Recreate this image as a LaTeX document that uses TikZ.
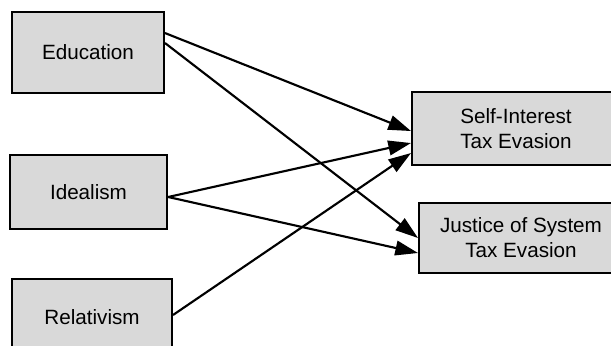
\documentclass[tikz,border=0pt]{standalone}
\usepackage{fontspec}
\setmainfont{Liberation Sans}
\usetikzlibrary{arrows.meta}
\begin{document}
\begin{tikzpicture}[x=0.75pt,y=-0.75pt,
  box/.style={draw=black,line width=1.5pt,fill=black!15,align=center,
    font=\fontsize{15.5}{18.75}\selectfont,inner sep=0pt},
  arr/.style={line width=1.6pt,-{Triangle[length=17pt,width=11pt]}}]
\useasboundingbox (0,0) rectangle (611,346);
\clip (0,0) rectangle (611,346);
\node[box,minimum width=114pt,minimum height=61pt] (edu) at (88,52.5) {Education};
\node[box,minimum width=118pt,minimum height=55.5pt] (ideal) at (88.5,192) {Idealism};
\node[box,minimum width=120pt,minimum height=57pt] (rel) at (92,317) {Relativism};
\node[box,minimum width=156pt,minimum height=54.75pt] (self) at (516,128.5) {Self-Interest\\Tax Evasion};
\node[box,minimum width=153pt,minimum height=52.5pt] (just) at (521,238) {Justice of System\\Tax Evasion};
\draw[arr] ([yshift=14.6pt]edu.east) -- ([yshift=-1.9pt]self.west);
\draw[arr] ([yshift=7.1pt]edu.east) -- (just.west);
\draw[arr] ([yshift=-3.75pt]ideal.east) -- ([yshift=-10.9pt]self.west);
\draw[arr] ([yshift=-3.75pt]ideal.east) -- ([yshift=-11.25pt]just.west);
\draw[arr] ([yshift=1.5pt]rel.east) -- ([yshift=-18.4pt]self.west);
\end{tikzpicture}
\end{document}
